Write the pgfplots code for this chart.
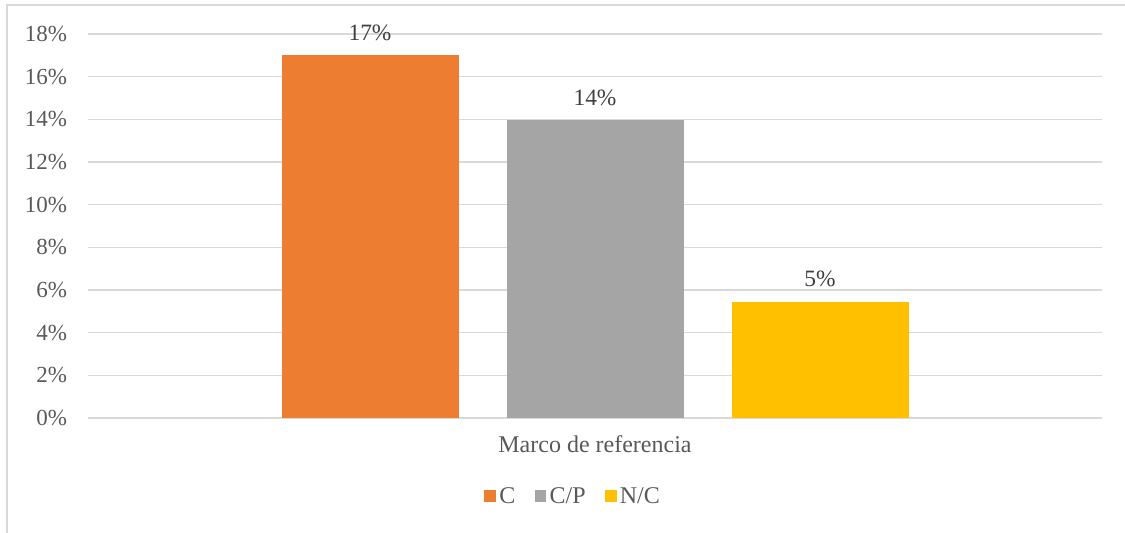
\documentclass[border=0pt]{standalone}
\usepackage{pgfplots}
\pgfplotsset{compat=1.18}
\usepackage{fontspec}
\setmainfont{Liberation Serif}

\definecolor{cOrange}{HTML}{ED7D31}
\definecolor{cGray}{HTML}{A5A5A5}
\definecolor{cGold}{HTML}{FFC000}
\definecolor{gridgray}{HTML}{D9D9D9}
\definecolor{txtgray}{HTML}{595959}
\definecolor{lblgray}{HTML}{404040}

\begin{document}
\begin{tikzpicture}
\useasboundingbox (0pt,0pt) rectangle (562.5pt,266.5pt);
\fill[white] (0pt,0pt) rectangle (562.5pt,266.5pt);
% chart border (only top and left are visible)
\draw[gridgray, line width=0.75pt] (3.5pt,0pt) -- (3.5pt,264pt) -- (562.5pt,264pt);

\begin{axis}[
  at={(44pt,57.5pt)}, anchor=south west,
  scale only axis, width=507pt, height=192pt,
  ybar=24pt, bar width=88.5pt,
  xmin=-0.5, xmax=0.5,
  ymin=0, ymax=18,
  xtick={0}, xticklabels={Marco de referencia},
  ytick={0,2,...,18},
  yticklabel={\pgfmathparse{int(\tick)}\pgfmathresult\%},
  ymajorgrids,
  grid style={line width=0.75pt, gridgray},
  axis line style={draw=none},
  major tick length=0pt,
  tick label style={font=\fontsize{11.5}{13}\selectfont, text=txtgray},
  yticklabel style={anchor=east, xshift=-7pt},
  xticklabel style={anchor=base, yshift=-17.5pt, font=\fontsize{12}{14}\selectfont},
  /pgf/number format/assume math mode=true,
  nodes near coords={\pgfmathprintnumber[fixed,precision=0]{\pgfplotspointmeta}\%},
  nodes near coords style={font=\fontsize{11.7}{13}\selectfont, text=lblgray, anchor=base, yshift=7.5pt},
  legend columns=3,
  legend style={at={(0.479,-0.206)}, anchor=center, draw=none, fill=none,
    font=\fontsize{12}{14}\selectfont, text=txtgray,
    nodes={inner sep=1.6pt},
    /tikz/every even column/.append style={column sep=8pt}},
  legend image code/.code={\path[#1, draw=none] (0pt,-2.6pt) rectangle (5.9pt,3.3pt);},
]
\addplot[fill=cOrange, draw=none] coordinates {(0,17)};
\addlegendentry{C}
\addplot[fill=cGray, draw=none] coordinates {(0,13.95)};
\addlegendentry{C/P}
\addplot[fill=cGold, draw=none] coordinates {(0,5.45)};
\addlegendentry{N/C}
\end{axis}
\end{tikzpicture}
\end{document}
